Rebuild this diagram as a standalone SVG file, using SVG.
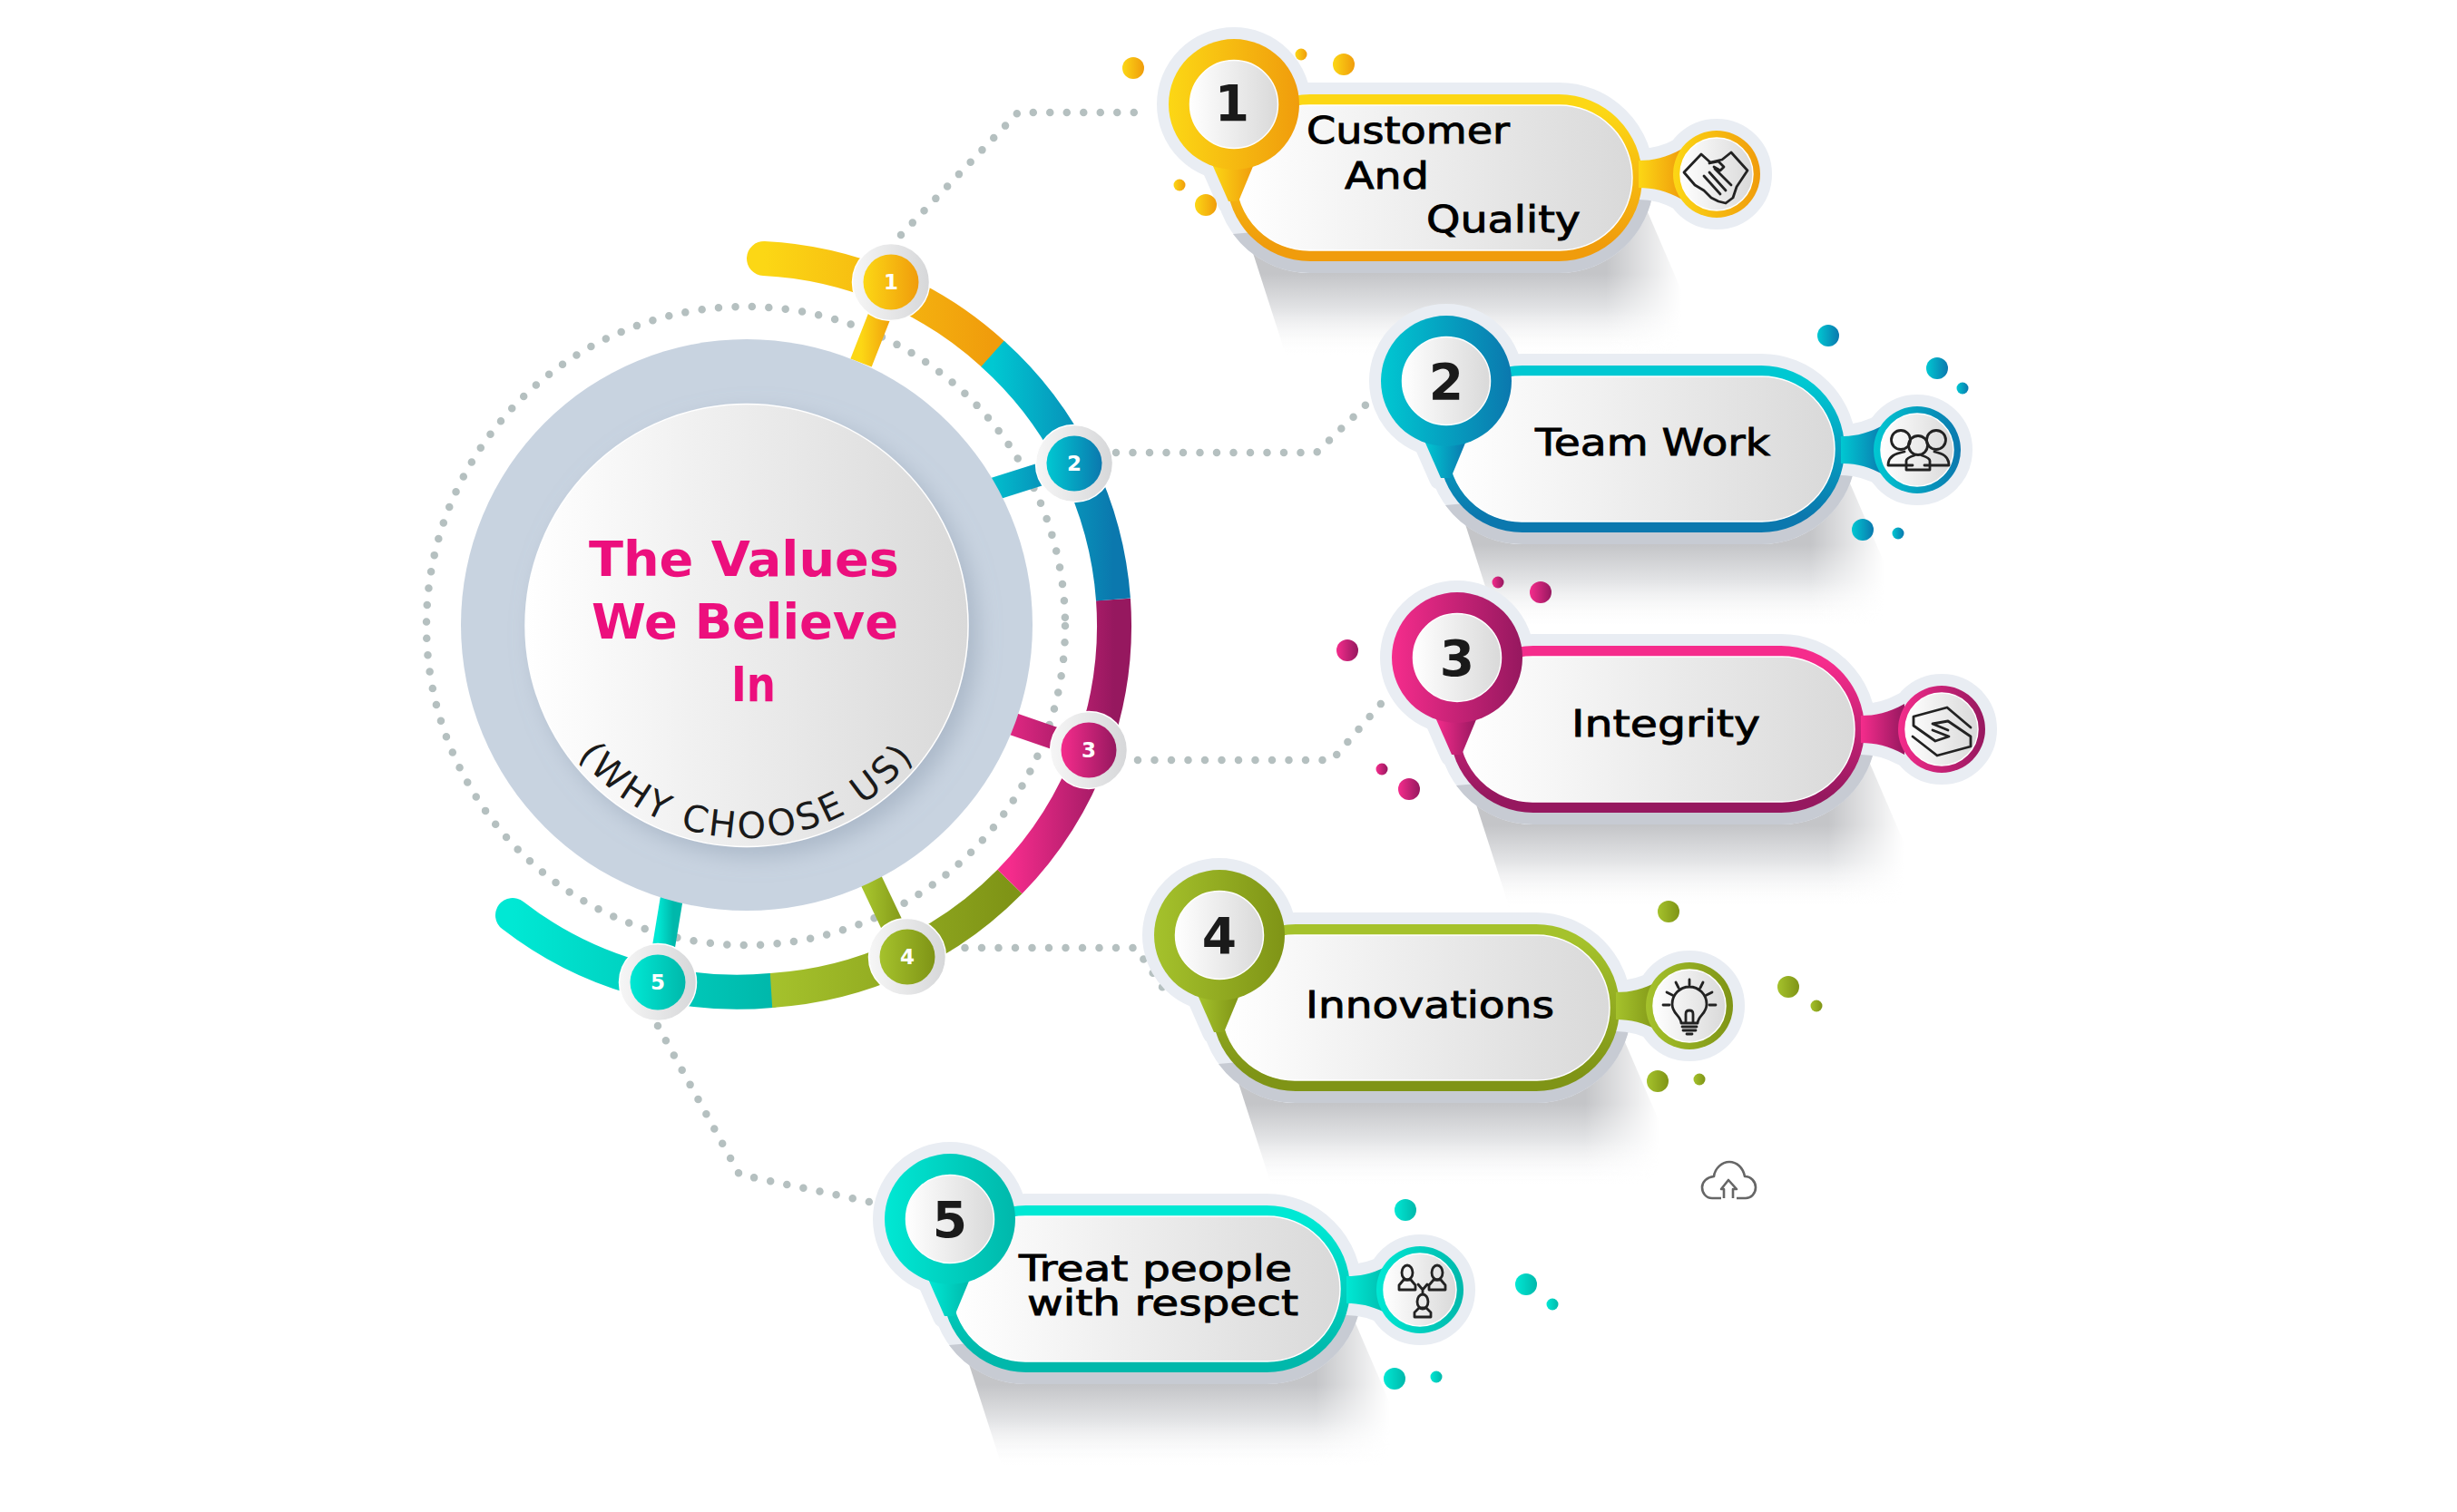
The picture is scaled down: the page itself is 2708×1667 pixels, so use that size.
<svg xmlns="http://www.w3.org/2000/svg" width="2708" height="1667" viewBox="0 0 2708 1667">
<style>
.halo{fill:#e9edf3;stroke:#e9edf3;stroke-width:26;stroke-linejoin:round}
.dark{fill:#c7cbd3}
.w{fill:url(#wg);stroke:#fff;stroke-width:1.5}
.dots{fill:none;stroke:#b5c0c0;stroke-width:8.5;stroke-linecap:round;stroke-dasharray:0 18.5}
.ring{fill:none;stroke-width:38}
.spoke{fill:none;stroke-width:25}
.t{font-family:"DejaVu Sans",sans-serif;font-size:41px;fill:#000;stroke:#000;stroke-width:.9}
.n{font-family:"DejaVu Sans",sans-serif;font-size:55px;font-weight:700;fill:#1a1a1a;text-anchor:middle}
.sn{font-family:"DejaVu Sans",sans-serif;font-size:23px;font-weight:700;fill:#fff;text-anchor:middle}
.title{font-family:"DejaVu Sans",sans-serif;font-size:53px;font-weight:700;fill:#ec0f7d}
.ic{fill:none;stroke:#222;stroke-width:2.8;stroke-linecap:round;stroke-linejoin:round}
.sh{fill:url(#shg);mask:url(#fade)}
</style>
<defs>
<linearGradient id="wg"><stop offset="0" stop-color="#fff"/><stop offset="1" stop-color="#d9d9d9"/></linearGradient>
<linearGradient id="ow"><stop offset="0" stop-color="#f6f6f6"/><stop offset="1" stop-color="#d6d7d9"/></linearGradient>
<linearGradient id="h1"><stop offset="0" stop-color="#fcd715"/><stop offset="1" stop-color="#f09c0c"/></linearGradient>
<linearGradient id="h2"><stop offset="0" stop-color="#00c8d2"/><stop offset="1" stop-color="#0b78ae"/></linearGradient>
<linearGradient id="h3"><stop offset="0" stop-color="#f52c8c"/><stop offset="1" stop-color="#96185f"/></linearGradient>
<linearGradient id="h4"><stop offset="0" stop-color="#a5c22c"/><stop offset="1" stop-color="#7f9416"/></linearGradient>
<linearGradient id="h5"><stop offset="0" stop-color="#00e8d4"/><stop offset="1" stop-color="#00b8ab"/></linearGradient>
<linearGradient id="v1" x2="0" y2="1"><stop offset=".1" stop-color="#fcd715"/><stop offset=".9" stop-color="#f09c0c"/></linearGradient>
<linearGradient id="v2" x2="0" y2="1"><stop offset=".1" stop-color="#00c8d2"/><stop offset=".9" stop-color="#0b78ae"/></linearGradient>
<linearGradient id="v3" x2="0" y2="1"><stop offset=".1" stop-color="#f52c8c"/><stop offset=".9" stop-color="#96185f"/></linearGradient>
<linearGradient id="v4" x2="0" y2="1"><stop offset=".1" stop-color="#a5c22c"/><stop offset=".9" stop-color="#7f9416"/></linearGradient>
<linearGradient id="v5" x2="0" y2="1"><stop offset=".1" stop-color="#00e8d4"/><stop offset=".9" stop-color="#00b8ab"/></linearGradient>
<linearGradient id="shg" x2="0" y2="1"><stop offset=".47" stop-color="#c4c5c8"/><stop offset=".7" stop-color="#e3e4e6"/><stop offset="1" stop-color="#fff" stop-opacity="0"/></linearGradient>
<linearGradient id="fadeG"><stop offset=".78" stop-color="#fff"/><stop offset=".94" stop-color="#000"/></linearGradient>
<mask id="fade" maskContentUnits="objectBoundingBox" x="0" y="0" width="1" height="1"><rect width="1" height="1" fill="url(#fadeG)"/></mask>
<filter id="soft" x="-20%" y="-20%" width="140%" height="140%"><feDropShadow dx="10" dy="10" stdDeviation="12" flood-color="#93a2b6" flood-opacity=".55"/></filter>
<g id="pin"><path d="M-24 66 L-6 107 L5 107 L22 66 Z"/><circle r="72"/></g>
<g id="mini"><path d="M-4 -15 C12 -15 26 -18 44 -28 V28 C26 18 12 15 -4 15Z"/></g>
<g id="node"><circle r="42.5" fill="url(#ow)" stroke="#fff" stroke-width="1.5"/></g>
<path id="upc" d="M588 689 A235 235 0 0 0 1058 689"/>
</defs>
<rect width="2708" height="1667" fill="#fff"/>

<g id="connectors">
<circle class="dots" cx="822" cy="690" r="352"/>
<path class="dots" d="M993 259L1122 124H1257"/>
<path class="dots" d="M1230 499H1451L1515 437"/>
<path class="dots" d="M1254 838H1468L1528 769"/>
<path class="dots" d="M1045 1045H1252L1287 1097"/>
<path class="dots" d="M725 1131L815 1295L958 1325"/>
<path class="spoke" stroke="url(#h1)" d="M984 311L949 400"/>
<path class="spoke" stroke="url(#h2)" d="M1184 511L1080 544"/>
<path class="spoke" stroke="url(#h3)" d="M1200 827L1090 789"/>
<path class="spoke" stroke="url(#h4)" d="M1000 1055L955 960"/>
<path class="spoke" stroke="url(#h5)" d="M725 1083L742 980"/>
</g>

<g id="ring">
<path class="ring" stroke="url(#h5)" stroke-linecap="round" d="M565 1009A404 404 0 0 0 850 1092"/>
<path class="ring" stroke="url(#h4)" d="M850 1092A404 404 0 0 0 1113 972"/>
<path class="ring" stroke="url(#h3)" d="M1113 972A404 404 0 0 0 1227 661"/>
<path class="ring" stroke="url(#h1)" stroke-linecap="round" d="M842 285A404 404 0 0 1 1094 390"/>
<path class="ring" stroke="url(#h2)" d="M1094 390A404 404 0 0 1 1227 661"/>
</g>

<g id="center">
<circle cx="823" cy="689" r="315" fill="#c8d3e0"/>
<circle cx="823" cy="689.5" r="244" class="w" filter="url(#soft)"/>
<text class="title" x="649" y="635" textLength="342" lengthAdjust="spacingAndGlyphs">The Values</text>
<text class="title" x="652" y="704" textLength="338" lengthAdjust="spacingAndGlyphs">We Believe</text>
<text class="title" x="806" y="773" textLength="49" lengthAdjust="spacingAndGlyphs">In</text>
<text font-family="DejaVu Sans,sans-serif" font-size="40" letter-spacing="3.5" fill="#1a1a1a" text-anchor="middle"><textPath href="#upc" startOffset="50%">(WHY CHOOSE US)</textPath></text>
</g>

<g id="n1"><use href="#node" x="982" y="311"/><circle cx="982" cy="311" r="30.5" fill="url(#h1)"/><text class="sn" x="982" y="319">1</text></g>
<g id="n2"><use href="#node" x="1184" y="511"/><circle cx="1184" cy="511" r="30.5" fill="url(#h2)"/><text class="sn" x="1184" y="519">2</text></g>
<g id="n3"><use href="#node" x="1200" y="827"/><circle cx="1200" cy="827" r="30.5" fill="url(#h3)"/><text class="sn" x="1200" y="835">3</text></g>
<g id="n4"><use href="#node" x="1000" y="1055"/><circle cx="1000" cy="1055" r="30.5" fill="url(#h4)"/><text class="sn" x="1000" y="1063">4</text></g>
<g id="n5"><use href="#node" x="725" y="1083"/><circle cx="725" cy="1083" r="30.5" fill="url(#h5)"/><text class="sn" x="725" y="1091">5</text></g>

<g id="card1">
<g transform="translate(1352 104)">
<path class="sh" d="M10 116L66 290H533L458 116Z"/>
<rect class="halo" width="458" height="184" rx="92"/>
<path class="dark" d="M7 154A105 105 0 0 0 92 197H366A105 105 0 0 0 469 113Z"/>
<g class="halo"><use href="#pin" x="8" y="11"/><use href="#mini" x="458" y="88"/><circle cx="540" cy="88" r="48"/></g>
<rect width="458" height="184" rx="92" fill="url(#v1)"/>
<rect class="w" x="11" y="12" width="436" height="160" rx="80"/>
<use href="#pin" x="8" y="11" fill="url(#h1)"/><use href="#mini" x="458" y="88" fill="url(#h1)"/><circle cx="540" cy="88" r="48" fill="url(#h1)"/>
<circle class="w" cx="8" cy="11" r="48.5"/><circle class="w" cx="540" cy="88" r="40"/>
</g>
<text class="n" x="1358" y="133">1</text>
<text class="t" x="1440" y="158" textLength="224" lengthAdjust="spacingAndGlyphs">Customer</text>
<text class="t" x="1482" y="208" textLength="93" lengthAdjust="spacingAndGlyphs">And</text>
<text class="t" x="1572" y="256" textLength="170" lengthAdjust="spacingAndGlyphs">Quality</text>
<g class="ic" transform="translate(1892 192)"><path d="M-36 -2L-17 -22L-7 -13L6 -16L16 -24L34 -4L22 14L18 26L10 32L2 30L-6 26L-14 18L-24 12Z"/><path d="M-14 2L4 22M-8 -2L10 18M-2 -6L16 12M-8 -12L2 -14L8 -8L4 -4L-3 -8"/></g>
<g fill="url(#h1)"><circle cx="1249" cy="75" r="12"/><circle cx="1434" cy="60" r="6.5"/><circle cx="1481" cy="71" r="12"/><circle cx="1300" cy="204" r="6.5"/><circle cx="1329" cy="226" r="12"/></g>
</g>

<g id="card2">
<g transform="translate(1586 403)">
<path class="sh" d="M10 116L66 290H522L447 116Z"/>
<rect class="halo" width="447" height="184" rx="92"/>
<path class="dark" d="M7 154A105 105 0 0 0 92 197H355A105 105 0 0 0 458 113Z"/>
<g class="halo"><use href="#pin" x="8" y="17"/><use href="#mini" x="447" y="93"/><circle cx="527" cy="93" r="48"/></g>
<rect width="447" height="184" rx="92" fill="url(#v2)"/>
<rect class="w" x="11" y="12" width="425" height="160" rx="80"/>
<use href="#pin" x="8" y="17" fill="url(#h2)"/><use href="#mini" x="447" y="93" fill="url(#h2)"/><circle cx="527" cy="93" r="48" fill="url(#h2)"/>
<circle class="w" cx="8" cy="17" r="48.5"/><circle class="w" cx="527" cy="93" r="40"/>
</g>
<text class="n" x="1594" y="440">2</text>
<text class="t" x="1692" y="502" textLength="259" lengthAdjust="spacingAndGlyphs">Team Work</text>
<g class="ic" transform="translate(2113 496)"><circle cx="-18" cy="-11" r="10.5"/><circle cx="21" cy="-11" r="10.5"/><circle cx="1" cy="-5" r="10.5"/><path d="M-5 17H-32C-32 7 -24 4 -14 2M8 17H35C35 7 28 4 19 2M-12 22H14V12C14 9 8 7 5 6M-12 22V12C-12 9 -6 7 -3 6"/></g>
<g fill="url(#h2)"><circle cx="2015" cy="370" r="12"/><circle cx="2135" cy="406" r="12"/><circle cx="2163" cy="428" r="6.5"/><circle cx="2053" cy="584" r="12"/><circle cx="2092" cy="588" r="6.5"/></g>
</g>

<g id="card3">
<g transform="translate(1598 712)">
<path class="sh" d="M10 116L66 290H532L457 116Z"/>
<rect class="halo" width="457" height="184" rx="92"/>
<path class="dark" d="M7 154A105 105 0 0 0 92 197H365A105 105 0 0 0 468 113Z"/>
<g class="halo"><use href="#pin" x="8" y="13"/><use href="#mini" x="457" y="92"/><circle cx="542" cy="92" r="48"/></g>
<rect width="457" height="184" rx="92" fill="url(#v3)"/>
<rect class="w" x="11" y="12" width="435" height="160" rx="80"/>
<use href="#pin" x="8" y="13" fill="url(#h3)"/><use href="#mini" x="457" y="92" fill="url(#h3)"/><circle cx="542" cy="92" r="48" fill="url(#h3)"/>
<circle class="w" cx="8" cy="13" r="48.5"/><circle class="w" cx="542" cy="92" r="40"/>
</g>
<text class="n" x="1606" y="745">3</text>
<text class="t" x="1732" y="812" textLength="208" lengthAdjust="spacingAndGlyphs">Integrity</text>
<g class="ic" transform="translate(2140 804)"><path d="M32 -2L6 -24L-31 -14V-4L-7 13L8 8L-10 1"/><path d="M-32 8L-5 29L32 19V8L7 -9L-10 -6L7 1"/></g>
<g fill="url(#h3)"><circle cx="1651" cy="642" r="6.5"/><circle cx="1698" cy="653" r="12"/><circle cx="1485" cy="717" r="12"/><circle cx="1523" cy="848" r="6.5"/><circle cx="1553" cy="870" r="12"/></g>
</g>

<g id="card4">
<g transform="translate(1336 1019)">
<path class="sh" d="M10 116L66 290H524L449 116Z"/>
<rect class="halo" width="449" height="184" rx="92"/>
<path class="dark" d="M7 154A105 105 0 0 0 92 197H357A105 105 0 0 0 460 113Z"/>
<g class="halo"><use href="#pin" x="8" y="12"/><use href="#mini" x="449" y="90"/><circle cx="526" cy="90" r="48"/></g>
<rect width="449" height="184" rx="92" fill="url(#v4)"/>
<rect class="w" x="11" y="12" width="427" height="160" rx="80"/>
<use href="#pin" x="8" y="12" fill="url(#h4)"/><use href="#mini" x="449" y="90" fill="url(#h4)"/><circle cx="526" cy="90" r="48" fill="url(#h4)"/>
<circle class="w" cx="8" cy="12" r="48.5"/><circle class="w" cx="526" cy="90" r="40"/>
</g>
<text class="n" x="1344" y="1051">4</text>
<text class="t" x="1439" y="1122" textLength="274" lengthAdjust="spacingAndGlyphs">Innovations</text>
<g class="ic" transform="translate(1862 1109)"><path d="M-9 19C-10 10 -19 9 -19 -2A19 19 0 0 1 19 -2C19 9 10 10 9 19ZM-4 19V9Q-4 5 0 5Q4 5 4 9V19M-8 23H8M-7 27H7M-3 31H3M0 -29V-23M-29 -1H-22M29 -1H22M-15 -26L-12 -20M15 -26L12 -20M-25 -15L-19 -12M25 -15L19 -12"/></g>
<g fill="url(#h4)"><circle cx="1839" cy="1005" r="12"/><circle cx="1971" cy="1088" r="12"/><circle cx="2002" cy="1109" r="6.5"/><circle cx="1827" cy="1192" r="12"/><circle cx="1873" cy="1190" r="6.5"/></g>
</g>

<g id="card5">
<g transform="translate(1039 1329)">
<path class="sh" d="M10 116L66 290H524L449 116Z"/>
<rect class="halo" width="449" height="184" rx="92"/>
<path class="dark" d="M7 154A105 105 0 0 0 92 197H357A105 105 0 0 0 460 113Z"/>
<g class="halo"><use href="#pin" x="8" y="15"/><use href="#mini" x="449" y="93"/><circle cx="526" cy="93" r="48"/></g>
<rect width="449" height="184" rx="92" fill="url(#v5)"/>
<rect class="w" x="11" y="12" width="427" height="160" rx="80"/>
<use href="#pin" x="8" y="15" fill="url(#h5)"/><use href="#mini" x="449" y="93" fill="url(#h5)"/><circle cx="526" cy="93" r="48" fill="url(#h5)"/>
<circle class="w" cx="8" cy="15" r="48.5"/><circle class="w" cx="526" cy="93" r="40"/>
</g>
<text class="n" x="1047" y="1364">5</text>
<text class="t" style="font-size:39px"><tspan x="1123" y="1412" textLength="301" lengthAdjust="spacingAndGlyphs">Treat people</tspan><tspan x="1132" y="1450" textLength="299" lengthAdjust="spacingAndGlyphs">with respect</tspan></text>
<g class="ic" transform="translate(1565 1422)"><ellipse cx="-14" cy="-19" rx="6" ry="8"/><ellipse cx="19" cy="-19" rx="6" ry="8"/><ellipse cx="3" cy="13" rx="6" ry="8"/><path d="M-23 0V-5L-18 -11H-10L-5 -5V0ZM10 0V-5L15 -11H23L28 -5V0ZM-6 30V25L-1 20H7L12 25V30ZM-2 -6L3 0L8 -6M3 0V5"/></g>
<g fill="url(#h5)"><circle cx="1549" cy="1334" r="12"/><circle cx="1682" cy="1416" r="12"/><circle cx="1711" cy="1438" r="6.5"/><circle cx="1537" cy="1520" r="12"/><circle cx="1583" cy="1518" r="6.5"/></g>
</g>

<g id="cloud" fill="none" stroke="#666" stroke-width="2.6" stroke-linejoin="round">
<path d="M1897 1321H1887C1880 1321 1876 1315 1876 1309C1876 1303 1881 1298 1889 1297C1890 1288 1898 1281 1906 1281C1914 1281 1921 1287 1923 1297C1930 1297 1935 1303 1935 1309C1935 1316 1930 1321 1924 1321H1914"/>
<path d="M1900 1321V1311H1897L1905 1301L1914 1311H1910V1321"/>
</g>
</svg>
